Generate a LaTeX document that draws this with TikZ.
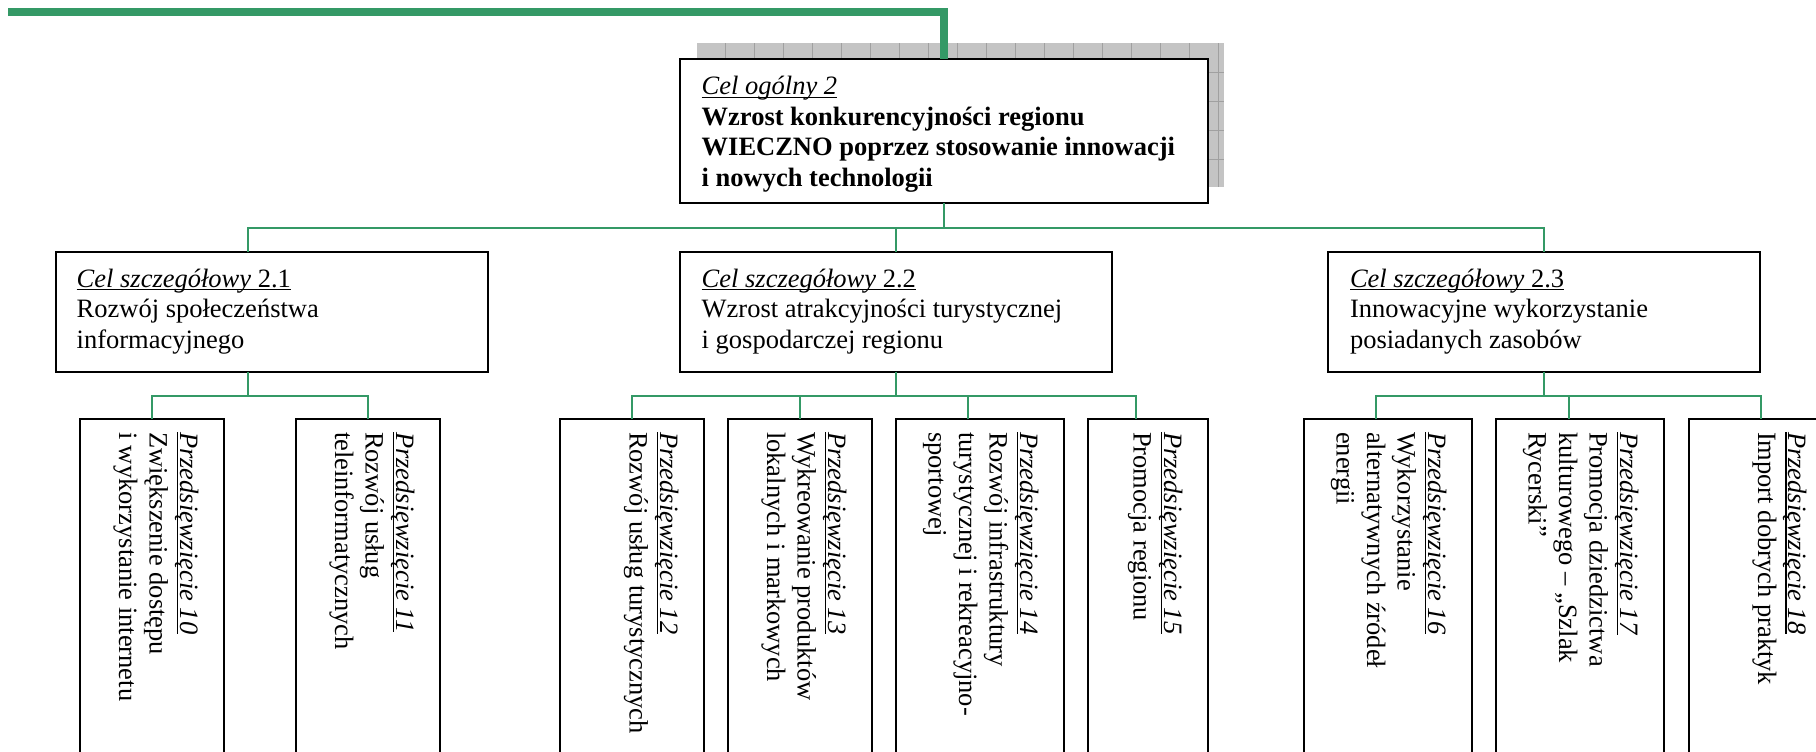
\documentclass[tikz,border=0pt]{standalone}
\usepackage{fontspec}
\setmainfont{Liberation Serif}
\definecolor{conngreen}{RGB}{52,153,102}
\definecolor{shadowgray}{RGB}{196,196,196}
\definecolor{gridgray}{RGB}{160,160,160}
\newsavebox\ulbox
\newcommand\ulx[1]{\sbox\ulbox{#1}\rlap{\rule[-3.4pt]{\wd\ulbox}{1.4pt}}\usebox\ulbox}
\newcommand\lines[1]{\vtop{\baselineskip=30.5pt\lineskiplimit=-100pt\lineskip=0pt\halign{##\hfil\cr#1\crcr}}}
\tikzset{
  every node/.style={font=\fontsize{26.5}{30.5}\selectfont},
  boxnode/.style={draw=black, line width=2pt, fill=white, inner sep=0pt, outer sep=0pt, anchor=north west},
  txt/.style={inner sep=0pt, outer sep=0pt, anchor=base west},
  vtxt/.style={inner sep=0pt, outer sep=0pt, anchor=base west, rotate=-90},
  conn/.style={draw=conngreen, line width=2pt},
  mainconn/.style={draw=conngreen, line width=7.5pt, line cap=butt, line join=miter},
  gridline/.style={draw=gridgray, line width=0.9pt}
}
\begin{document}
\begin{tikzpicture}[x=1pt,y=-1pt]
\useasboundingbox (0,0) rectangle (1816,752);
\clip (0,0) rectangle (1816,752);
\fill[white] (0,0) rectangle (1816,752);

% shadow of the main box
\fill[shadowgray] (696.7,43.3) rectangle (1224.3,186.7);
\foreach \i in {1,...,18} \draw[gridline] ({696.7+29*\i},43.3) -- ++(0,143.4);
\foreach \j in {1,...,4} \draw[gridline] (696.7,{43.3+29*\j}) -- ++(527.6,0);

% boxes
\node[boxnode, minimum width=528.3pt, minimum height=144.3pt] (main) at (680,59) {};
\node[boxnode, minimum width=432.6pt, minimum height=120pt] (c21) at (55.7,251.7) {};
\node[boxnode, minimum width=432.3pt, minimum height=120pt] (c22) at (680,251.7) {};
\node[boxnode, minimum width=432pt, minimum height=120pt] (c23) at (1328.3,251.7) {};

\node[boxnode, minimum width=144pt, minimum height=380pt] (p10) at (80,419.3) {};
\node[boxnode, minimum width=144pt, minimum height=380pt] (p11) at (296,419.3) {};
\node[boxnode, minimum width=144pt, minimum height=380pt] (p12) at (560,419.3) {};
\node[boxnode, minimum width=144pt, minimum height=380pt] (p13) at (728,419.3) {};
\node[boxnode, minimum width=168pt, minimum height=380pt] (p14) at (896,419.3) {};
\node[boxnode, minimum width=120pt, minimum height=380pt] (p15) at (1088,419.3) {};
\node[boxnode, minimum width=168pt, minimum height=380pt] (p16) at (1304,419.3) {};
\node[boxnode, minimum width=168pt, minimum height=380pt] (p17) at (1496,419.3) {};
\node[boxnode, minimum width=144pt, minimum height=380pt] (p18) at (1688.6,419.3) {};

% connector points
\coordinate (start) at (8,11.85);
\coordinate (busA) at (0,227.7);
\coordinate (busB) at (0,396);
\coordinate (c21in) at (248,251.7);
\coordinate (c21out) at (248,371.7);
\coordinate (p14in) at (968,419.3);
\coordinate (p15in) at (1136,419.3);
\coordinate (p16in) at (1376,419.3);
\coordinate (p17in) at (1568.7,419.3);

% connectors
\draw[mainconn] (start) -| (main.north);
\draw[conn] (main.south) -- (main.south |- busA);
\draw[conn] (c21in) -- (c21in |- busA) -- (c23.north |- busA) -- (c23.north);
\draw[conn] (c22.north) -- (c22.north |- busA);

\draw[conn] (c21out) -- (c21out |- busB);
\draw[conn] (p10.north) -- (p10.north |- busB) -- (p11.north |- busB) -- (p11.north);

\draw[conn] (c22.south) -- (c22.south |- busB);
\draw[conn] (p12.north) -- (p12.north |- busB) -- (p15in |- busB) -- (p15in);
\draw[conn] (p13.north) -- (p13.north |- busB);
\draw[conn] (p14in) -- (p14in |- busB);

\draw[conn] (c23.south) -- (c23.south |- busB);
\draw[conn] (p16in) -- (p16in |- busB) -- (p18.north |- busB) -- (p18.north);
\draw[conn] (p17in) -- (p17in |- busB);

% texts
\node[txt] (maint) at (701.7,95) {\lines{\ulx{\textit{Cel ogólny 2}}\cr
\textbf{Wzrost konkurencyjności regionu}\cr
\textbf{WIECZNO poprzez stosowanie innowacji}\cr
\textbf{i nowych technologii}}};
\node[txt] (c21t) at (76.7,287) {\lines{\ulx{\textit{Cel szczegółowy} 2.1}\cr
Rozwój społeczeństwa\cr informacyjnego}};
\node[txt] (c22t) at (701.7,287) {\lines{\ulx{\textit{Cel szczegółowy} 2.2}\cr
Wzrost atrakcyjności turystycznej\cr i gospodarczej regionu}};
\node[txt] (c23t) at (1350,287) {\lines{\ulx{\textit{Cel szczegółowy} 2.3}\cr
Innowacyjne wykorzystanie\cr posiadanych zasobów}};

\node[vtxt] (p10t) at (180,432) {\lines{\ulx{\textit{Przedsięwzięcie 10}}\cr
Zwiększenie dostępu\cr i wykorzystanie internetu}};
\node[vtxt] (p11t) at (396,432) {\lines{\ulx{\textit{Przedsięwzięcie 11}}\cr
Rozwój usług\cr teleinformatycznych}};
\node[vtxt] (p12t) at (660,432) {\lines{\ulx{\textit{Przedsięwzięcie 12}}\cr
Rozwój usług turystycznych}};
\node[vtxt] (p13t) at (828,432) {\lines{\ulx{\textit{Przedsięwzięcie 13}}\cr
Wykreowanie produktów\cr lokalnych i markowych}};
\node[vtxt] (p14t) at (1020,432) {\lines{\ulx{\textit{Przedsięwzięcie 14}}\cr
Rozwój infrastruktury\cr turystycznej i rekreacyjno-\cr sportowej}};
\node[vtxt] (p15t) at (1164,432) {\lines{\ulx{\textit{Przedsięwzięcie 15}}\cr
Promocja regionu}};
\node[vtxt] (p16t) at (1428,432) {\lines{\ulx{\textit{Przedsięwzięcie 16}}\cr
Wykorzystanie\cr alternatywnych źródeł\cr energii}};
\node[vtxt] (p17t) at (1620,432) {\lines{\ulx{\textit{Przedsięwzięcie 17}}\cr
Promocja dziedzictwa\cr kulturowego – „Szlak\cr Rycerski”}};
\node[vtxt] (p18t) at (1788.6,432) {\lines{\ulx{\textit{Przedsięwzięcie 18}}\cr
Import dobrych praktyk}};
\end{tikzpicture}
\end{document}
